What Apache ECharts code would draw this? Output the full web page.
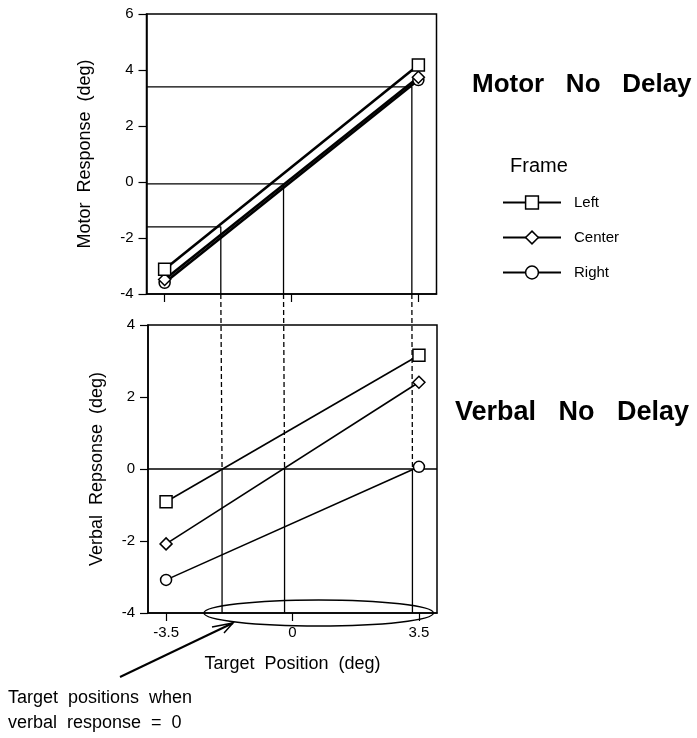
<!DOCTYPE html>
<html>
<head>
<meta charset="utf-8">
<title>Motor / Verbal No Delay</title>
<script src="https://cdn.jsdelivr.net/npm/echarts@6/dist/echarts.min.js"></script>
<style>
  html, body { margin: 0; padding: 0; background: #fff; }
  #chart { width: 697px; height: 738px; }
</style>
</head>
<body>
<div id="chart"></div>
<script>
// target positions (deg)
var targetPos = [-3.5, 3.5];
var xTicks = [-3.5, 0, 3.5];

// motor response, no delay
var motorLeft   = [-3.12, 4.18];
var motorCenter = [-3.48, 3.74];
var motorRight  = [-3.60, 3.64];

// verbal response, no delay
var verbalLeft   = [-0.91, 3.16];
var verbalCenter = [-2.08, 2.41];
var verbalRight  = [-3.08, 0.06];

// target positions where verbal response = 0 (Left, Center, Right) and the motor response there
var zeroTarget = [-1.95, -0.22, 3.32];
var motorAtZero = [-1.60, -0.07, 3.40];

var FONT = "'Liberation Sans', Arial, Helvetica, sans-serif";

function pairs(ys) {
  return targetPos.map(function (x, i) { return [x, ys[i]]; });
}

var chart = echarts.init(document.getElementById('chart'));

var markStyle = { color: '#fff', borderColor: '#000', borderWidth: 1.5 };

function frameSeries(idx, data, lw) {
  // order: Right first, Left last so the square sits on top
  var defs = [
    { name: 'Right',  symbol: 'circle',  size: 11, ys: data[2] },
    { name: 'Center', symbol: 'diamond', size: 12, ys: data[1] },
    { name: 'Left',   symbol: 'rect',    size: 12, ys: data[0] }
  ];
  return defs.map(function (d) {
    return {
      name: d.name,
      type: 'line',
      xAxisIndex: idx, yAxisIndex: idx,
      data: pairs(d.ys),
      symbol: d.symbol,
      symbolSize: d.size,
      showAllSymbol: true,
      lineStyle: { color: '#000', width: lw },
      itemStyle: markStyle,
      z: 5
    };
  });
}

function refLine(idx, data) {
  return {
    type: 'line',
    xAxisIndex: idx, yAxisIndex: idx,
    data: data,
    symbol: 'none',
    silent: true,
    lineStyle: { color: '#000', width: 1.3 },
    z: 2
  };
}

var series = [];
// top: motor
series = series.concat(frameSeries(0, [motorLeft, motorCenter, motorRight], 2.6));
zeroTarget.forEach(function (x, i) {
  series.push(refLine(0, [[-4, motorAtZero[i]], [x, motorAtZero[i]], [x, -4]]));
});
// bottom: verbal
series = series.concat(frameSeries(1, [verbalLeft, verbalCenter, verbalRight], 1.6));
series.push(refLine(1, [[-4, 0], [4, 0]]));
zeroTarget.forEach(function (x) {
  series.push(refLine(1, [[x, 0], [x, -4]]));
});

function xAxis(gridIndex, showLabels) {
  return {
    type: 'value', gridIndex: gridIndex, min: -4, max: 4,
    axisLine: { onZero: false, lineStyle: { color: '#000', width: 1.5 } },
    axisTick: { show: true, customValues: xTicks, length: 8, lineStyle: { color: '#000', width: 1.2 } },
    axisLabel: { show: showLabels, customValues: xTicks, color: '#000', fontSize: 15, fontFamily: FONT, margin: 12 },
    splitLine: { show: false },
    name: showLabels ? 'Target  Position  (deg)' : '',
    nameLocation: 'middle', nameGap: 42,
    nameTextStyle: { color: '#000', fontSize: 18, fontFamily: FONT }
  };
}

function yAxis(gridIndex, min, max, name, gap) {
  return {
    type: 'value', gridIndex: gridIndex, min: min, max: max, interval: 2,
    axisLine: { onZero: false, lineStyle: { color: '#000', width: 1.5 } },
    axisTick: { show: true, length: 8, lineStyle: { color: '#000', width: 1.2 } },
    axisLabel: { color: '#000', fontSize: 15, fontFamily: FONT, margin: 13 },
    splitLine: { show: false },
    name: name, nameLocation: 'middle', nameGap: gap,
    nameTextStyle: { color: '#000', fontSize: 18, fontFamily: FONT }
  };
}

chart.setOption({
  animation: false,
  backgroundColor: '#fff',
  grid: [
    { left: 146.5, top: 14, width: 290, height: 280, show: true, borderColor: '#000', borderWidth: 1.5 },
    { left: 148, top: 325, width: 289, height: 288, show: true, borderColor: '#000', borderWidth: 1.5 }
  ],
  xAxis: [xAxis(0, false), xAxis(1, true)],
  yAxis: [
    yAxis(0, -4, 6, 'Motor  Response  (deg)', 52),
    yAxis(1, -4, 4, 'Verbal  Repsonse  (deg)', 42)
  ],
  legend: {
    data: ['Left', 'Center', 'Right'],
    orient: 'vertical',
    left: 497, top: 190,
    itemWidth: 58, itemHeight: 16, itemGap: 20,
    lineStyle: { color: '#000', width: 2 },
    itemStyle: { color: '#fff', borderColor: '#000', borderWidth: 1.5 },
    textStyle: { color: '#000', fontSize: 15, fontFamily: FONT, padding: [0, 0, 0, 8] },
    selectedMode: false
  },
  series: series
});

// annotation layer: dashed connectors, ellipse, labels
var graphics = [];
zeroTarget.forEach(function (x) {
  var p0 = chart.convertToPixel({ gridIndex: 0 }, [x, -4]);
  var p1 = chart.convertToPixel({ gridIndex: 1 }, [x, 0]);
  graphics.push({
    type: 'line', silent: true, z: 3,
    shape: { x1: p0[0], y1: p0[1], x2: p1[0], y2: p1[1] },
    style: { stroke: '#000', lineWidth: 1.3, lineDash: [5, 3] }
  });
});
var eL = chart.convertToPixel({ gridIndex: 1 }, [-2.45, -4]);
var eR = chart.convertToPixel({ gridIndex: 1 }, [3.9, -4]);
graphics.push({
  type: 'ellipse', silent: true, z: 10,
  shape: { cx: (eL[0] + eR[0]) / 2, cy: eL[1], rx: (eR[0] - eL[0]) / 2, ry: 13 },
  style: { fill: null, stroke: '#000', lineWidth: 1.4 }
});
graphics.push({
  type: 'polyline', silent: true, z: 10,
  shape: { points: [[120, 677], [233, 623]] },
  style: { stroke: '#000', lineWidth: 2, fill: null }
});
graphics.push({
  type: 'polyline', silent: true, z: 10,
  shape: { points: [[212, 627], [233, 623], [224, 633]] },
  style: { stroke: '#000', lineWidth: 1.5, fill: null }
});
graphics.push({
  type: 'text', left: 472, top: 72, z: 10,
  style: { text: 'Motor   No   Delay', font: 'bold 26px ' + FONT, fill: '#000' }
});
graphics.push({
  type: 'text', left: 455, top: 399, z: 10,
  style: { text: 'Verbal   No   Delay', font: 'bold 27px ' + FONT, fill: '#000' }
});
graphics.push({
  type: 'text', left: 510, top: 156, z: 10,
  style: { text: 'Frame', font: '20px ' + FONT, fill: '#000' }
});
graphics.push({
  type: 'text', left: 8, top: 686, z: 10,
  style: { text: 'Target  positions  when\nverbal  response  =  0', font: '18px ' + FONT, fill: '#000', lineHeight: 25 }
});
chart.setOption({ graphic: graphics });
</script>
</body>
</html>
